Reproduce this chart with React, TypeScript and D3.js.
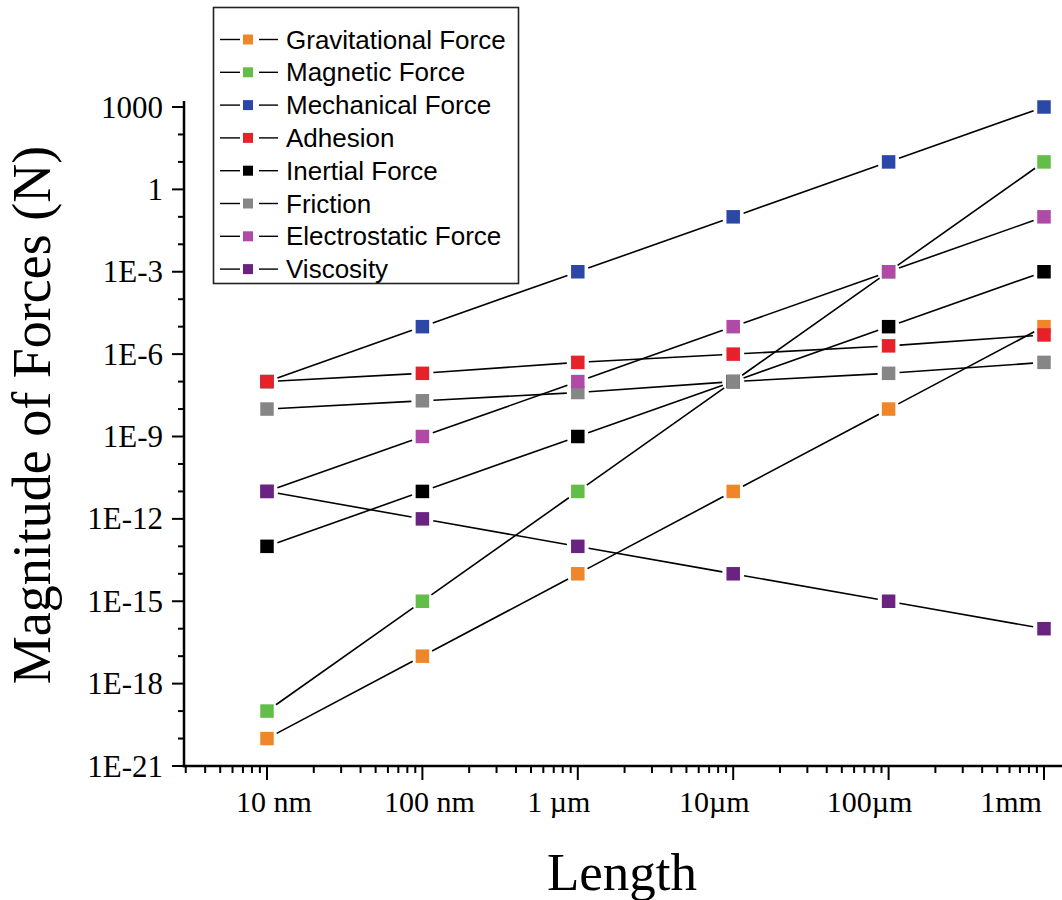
import React from "react";
import * as d3 from "d3";

// lengths in metres
const lengths = [1e-8, 1e-7, 1e-6, 1e-5, 1e-4, 1e-3];
const lengthLabels = ["10 nm", "100 nm", "1 µm", "10µm", "100µm", "1mm"];

const gravitational = [1e-20, 1e-17, 1e-14, 1e-11, 1e-8, 1e-5];
const magnetic = [1e-19, 1e-15, 1e-11, 1e-7, 1e-3, 10];
const mechanical = [1e-7, 1e-5, 1e-3, 1e-1, 10, 1000];
const adhesion = [1e-7, 2e-7, 5e-7, 1e-6, 2e-6, 5e-6];
const inertial = [1e-13, 1e-11, 1e-9, 1e-7, 1e-5, 1e-3];
const friction = [1e-8, 2e-8, 4e-8, 1e-7, 2e-7, 5e-7];
const electrostatic = [1e-11, 1e-9, 1e-7, 1e-5, 1e-3, 1e-1];
const viscosity = [1e-11, 1e-12, 1e-13, 1e-14, 1e-15, 1e-16];

const seriesNames = [
  "Gravitational Force",
  "Magnetic Force",
  "Mechanical Force",
  "Adhesion",
  "Inertial Force",
  "Friction",
  "Electrostatic Force",
  "Viscosity",
];
const seriesValues = [
  gravitational,
  magnetic,
  mechanical,
  adhesion,
  inertial,
  friction,
  electrostatic,
  viscosity,
];
const seriesColors = [
  "#F0862A",
  "#62BE46",
  "#2B48A6",
  "#E62129",
  "#000000",
  "#868686",
  "#B04AA6",
  "#6B2381",
];

const yTickValues = [1e3, 1, 1e-3, 1e-6, 1e-9, 1e-12, 1e-15, 1e-18, 1e-21];
const yTickLabels = ["1000", "1", "1E-3", "1E-6", "1E-9", "1E-12", "1E-15", "1E-18", "1E-21"];

const W = 1062;
const H = 900;
const axisLeft = 184;
const axisBottom = 766;
const axisTop = 101;

const serif = "'Liberation Serif', 'Times New Roman', serif";
const sans = "'Liberation Sans', Arial, sans-serif";

export default function App() {
  const x = d3.scaleLog().domain([1e-8, 1e-3]).range([267, 1044]);
  const y = d3.scaleLog().domain([1e-21, 1e3]).range([axisBottom, 107]);

  // minor x ticks 2..9 inside visible axis range
  const xMin = x.invert(axisLeft);
  const xMax = x.invert(W);
  const xMinor: number[] = [];
  for (let e = -10; e <= -2; e++) {
    for (let k = 2; k <= 9; k++) {
      const v = k * Math.pow(10, e);
      if (v >= xMin && v <= xMax) xMinor.push(v);
    }
  }
  const yDecades = d3.range(-21, 4).map((e) => Math.pow(10, e));

  const labelShift = (s: string) => (s.includes("nm") ? 7 : s.includes("mm") ? -33 : -19);

  const gap = 11;
  const segs: { x1: number; y1: number; x2: number; y2: number; key: string }[] = [];
  seriesValues.forEach((vals, si) => {
    for (let i = 0; i < vals.length - 1; i++) {
      const ax = x(lengths[i]), ay = y(vals[i]);
      const bx = x(lengths[i + 1]), by = y(vals[i + 1]);
      const len = Math.hypot(bx - ax, by - ay);
      const ux = (bx - ax) / len, uy = (by - ay) / len;
      segs.push({
        x1: ax + ux * gap,
        y1: ay + uy * gap,
        x2: bx - ux * gap,
        y2: by - uy * gap,
        key: `${si}-${i}`,
      });
    }
  });

  const ms = 13.5;

  return (
    <svg
      width={W}
      height={H}
      style={{ position: "absolute", left: 0, top: 0, background: "#fff" }}
    >
      {/* connecting lines */}
      <g stroke="#000" strokeWidth={1.6}>
        {segs.map((s) => (
          <line key={s.key} x1={s.x1} y1={s.y1} x2={s.x2} y2={s.y2} />
        ))}
      </g>

      {/* markers */}
      {seriesValues.map((vals, si) => (
        <g key={si} fill={seriesColors[si]}>
          {vals.map((v, i) => (
            <rect
              key={i}
              x={x(lengths[i]) - ms / 2}
              y={y(v) - ms / 2}
              width={ms}
              height={ms}
            />
          ))}
        </g>
      ))}

      {/* axes */}
      <g stroke="#000" fill="none">
        <line x1={axisLeft} y1={axisTop} x2={axisLeft} y2={axisBottom + 1.25} strokeWidth={2.5} />
        <line x1={axisLeft - 1.25} y1={axisBottom} x2={W} y2={axisBottom} strokeWidth={2.5} />
        {yDecades.map((v, i) => {
          const major = yTickValues.includes(v);
          return (
            <line
              key={i}
              x1={axisLeft - (major ? 12 : 6)}
              x2={axisLeft}
              y1={y(v)}
              y2={y(v)}
              strokeWidth={2}
            />
          );
        })}
        {lengths.map((v, i) => (
          <line key={i} x1={x(v)} x2={x(v)} y1={axisBottom} y2={axisBottom + 14} strokeWidth={2} />
        ))}
        {xMinor.map((v, i) => (
          <line key={i} x1={x(v)} x2={x(v)} y1={axisBottom} y2={axisBottom + 7} strokeWidth={2} />
        ))}
      </g>

      {/* y tick labels */}
      <g fontFamily={serif} fontSize={31} textAnchor="end" fill="#000">
        {yTickValues.map((v, i) => (
          <text key={i} x={163} y={y(v)} dominantBaseline="central">
            {yTickLabels[i]}
          </text>
        ))}
      </g>

      {/* x tick labels */}
      <g fontFamily={serif} fontSize={30} textAnchor="middle" fill="#000">
        {lengths.map((v, i) => (
          <text key={i} x={x(v) + labelShift(lengthLabels[i])} y={812}>
            {lengthLabels[i]}
          </text>
        ))}
      </g>

      {/* axis titles */}
      <text
        transform="translate(50,415) rotate(-90)"
        textAnchor="middle"
        fontFamily={serif}
        fontSize={54}
        fill="#000"
      >
        Magnitude of Forces (N)
      </text>
      <text x={622} y={890} textAnchor="middle" fontFamily={serif} fontSize={53} fill="#000">
        Length
      </text>

      {/* legend */}
      <g>
        <rect x={213.5} y={7.5} width={305} height={276} fill="#fff" stroke="#222" strokeWidth={1.6} />
        {seriesNames.map((name, i) => {
          const cy = 39.5 + i * 32.8;
          return (
            <g key={name}>
              <line x1={220} x2={240} y1={cy} y2={cy} stroke="#000" strokeWidth={1.4} />
              <rect x={243} y={cy - 5} width={10} height={10} fill={seriesColors[i]} />
              <line x1={259} x2={278} y1={cy} y2={cy} stroke="#000" strokeWidth={1.4} />
              <text x={286} y={cy} dominantBaseline="central" fontFamily={sans} fontSize={26} fill="#000">
                {name}
              </text>
            </g>
          );
        })}
      </g>
    </svg>
  );
}
